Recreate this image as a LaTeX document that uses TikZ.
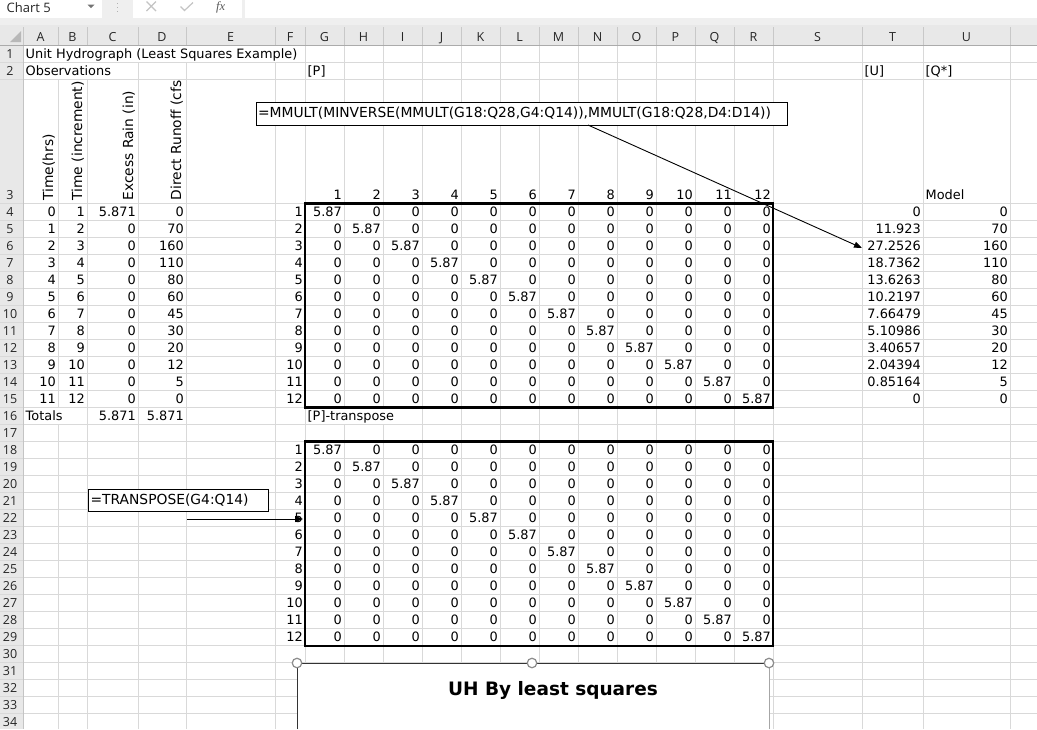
\documentclass[tikz,border=0pt]{standalone}
\usepackage{fontspec}
\setmainfont{DejaVu Sans}
\newfontfamily\uifont{Open Sans}
\newfontfamily\serifui{Liberation Serif}
\usetikzlibrary{arrows.meta}
\definecolor{gridc}{HTML}{D9D9D9}
\definecolor{hdrbg}{HTML}{E8E8E8}
\definecolor{barbg}{HTML}{EFEFEF}
\definecolor{hdrtxt}{HTML}{262626}
\definecolor{hdrline}{HTML}{ABABAB}
\definecolor{hdrsep}{HTML}{C8C8C8}
\definecolor{iconc}{HTML}{C4C4C4}
\newcommand\cellfont{\fontsize{12.9}{15}\selectfont}
\newcommand\shapefont{\fontsize{13.85}{16}\selectfont}
\newcommand\rotfont{\fontsize{13.8}{16}\selectfont}
\newcommand\hdrfont{\uifont\fontsize{12.5}{15}\selectfont}
\tikzset{
  cr/.style={anchor=base east, inner sep=0pt, font=\cellfont},
  cl/.style={anchor=base west, inner sep=0pt, font=\cellfont},
  hdrtext/.style={anchor=base, inner sep=0pt, font=\hdrfont, text=hdrtxt},
  rot/.style={rotate=90, anchor=base west, inner sep=0pt, font=\rotfont},
  gridl/.style={draw=gridc, line width=1pt},
  thickbox/.style={draw=black, line width=2.2pt},
  formulabox/.style={draw=black, line width=1pt, fill=white, anchor=north west,
     font=\shapefont, align=left, inner xsep=2pt, inner ysep=0pt,
     text height=10pt, text depth=2.5pt},
  conn/.style={draw=black, line width=0.9pt, -{Triangle[length=8pt,width=6pt]}},
  handle/.style={circle, draw=black!45, fill=white, line width=1.2pt, minimum size=9.5pt, inner sep=0pt},
}
\begin{document}
\begin{tikzpicture}[x=1pt,y=-1pt]
\useasboundingbox (0,0) rectangle (1037,729);
\fill[white] (0,0) rectangle (1037,729);
% ---------- toolbar ----------
\fill[barbg] (0,0) rectangle (1037,25);
\fill[white] (0,0) rectangle (102,17.5);
\node[anchor=base west, inner sep=0pt, font=\uifont\fontsize{13}{15}\selectfont, text=hdrtxt] (namebox) at (6.5,12.5) {Chart 5};
\fill[black!55] (87.5,4.5) -- (94.5,4.5) -- (91,8) -- cycle;
\foreach \yy in {2.5,6.5,10.5} \fill[black!30] (116.6,\yy) rectangle (118.2,{\yy+1.6});
\fill[white] (133,0) rectangle (242,17.5);
\draw[iconc, line width=1.2pt] (146.5,1.5) -- (156,11) (146.5,11) -- (156,1.5);
\draw[iconc, line width=1.2pt] (180.5,6.5) -- (184.5,10.5) -- (193,2.5);
\node[anchor=base west, inner sep=0pt, font=\serifui\itshape\fontsize{12.5}{13}\selectfont, text=black!65] (fxlbl) at (216,10.5) {fx};
\fill[white] (245,0) rectangle (1037,17.5);
% ---------- headers ----------
\fill[hdrbg] (0,25) rectangle (1037,45.5);
\fill[hdrbg] (0,45.5) rectangle (23,729);
\fill[black!28] (21,31) -- (21,42) -- (10,42) -- cycle;
% ---------- grid ----------
\foreach \x in {23,58,87,138,186,275,305,344,383,422,461,500,539,578,617,656,695,734,773,862,923,1010}
  \draw[gridl] (\x,45.5) -- (\x,729);
\foreach \x in {23,58,87,138,186,275,305,344,383,422,461,500,539,578,617,656,695,734,773,862,923,1010}
  \draw[hdrsep, line width=1pt] (\x,27) -- (\x,45);
\foreach \yy in {62.5,79.5} \draw[gridl] (0,\yy) -- (1037,\yy);
\foreach \k in {0,...,31} \draw[gridl] (0,{203.5+17*\k}) -- (1037,{203.5+17*\k});
\draw[hdrline, line width=1pt] (0,45.5) -- (1037,45.5);
\draw[hdrline!70, line width=1pt] (23,45.5) -- (23,729);
% overflowing text hides inner grid lines
\fill[white] (23.5,46.2) rectangle (304.5,62);
\fill[white] (23.5,63) rectangle (137.5,79);
\fill[white] (23.5,408.2) rectangle (86.5,424);
\fill[white] (305.5,408.2) rectangle (421.5,424);
% ---------- column letters ----------
\foreach \L/\cx in {A/40.5,B/72.5,C/112.5,D/162,E/230.5,F/290,G/324.5,H/363.5,I/402.5,J/441.5,K/480.5,L/519.5,M/558.5,N/597.5,O/636.5,P/675.5,Q/714.5,R/753.5,S/817.5,T/892.5,U/966.5}
  \node[hdrtext] (col-\L) at (\cx,41.5) {\L};
% ---------- row numbers ----------
\node[hdrtext] (row-1) at (10,58.8) {1};
\node[hdrtext] (row-2) at (10,75.8) {2};
\node[hdrtext] (row-3) at (10,199.8) {3};
\foreach \n in {4,...,34} \node[hdrtext] (row-\n) at (10,{216.8+17*(\n-4)}) {\n};
% ---------- cell texts ----------
\node[cl] (t1) at (25.5,58.8) {Unit Hydrograph (Least Squares Example)};
\node[cl] (t2) at (25.5,75.8) {Observations};
\node[cl] (g2) at (307.5,75.8) {[P]};
\node[cl] (t2u) at (864.5,75.8) {[U]};
\node[cl] (u2) at (925.5,75.8) {[Q*]};
\node[cl] (u3) at (925.5,199.8) {Model};
\begin{scope}
\clip (23,80) rectangle (186,203.5);
\node[rot] (ha) at (53,200.5) {Time(hrs)};
\node[rot] (hb) at (82,200.5) {Time (increment)};
\node[rot] (hc) at (133,200.5) {Excess Rain (in)};
\node[rot] (hd) at (181,200.5) {Direct Runoff (cfs)};
\end{scope}
\foreach \a/\b/\c/\d [count=\i from 0] in {0/1/5.871/0,1/2/0/70,2/3/0/160,3/4/0/110,4/5/0/80,5/6/0/60,6/7/0/45,7/8/0/30,8/9/0/20,9/10/0/12,10/11/0/5,11/12/0/0}{
  \node[cr] (a-\i) at (56,{216.8+17*\i}) {\a};
  \node[cr] (b-\i) at (85,{216.8+17*\i}) {\b};
  \node[cr] (c-\i) at (136,{216.8+17*\i}) {\c};
  \node[cr] (d-\i) at (184,{216.8+17*\i}) {\d};
}
\node[cl] (tot) at (25.5,420.8) {Totals};
\node[cr] (totc) at (136,420.8) {5.871};
\node[cr] (totd) at (184,420.8) {5.871};
\node[cl] (ptr) at (307.5,420.8) {[P]-transpose};
\foreach \tv/\uv [count=\i from 0] in {0/0,11.923/70,27.2526/160,18.7362/110,13.6263/80,10.2197/60,7.66479/45,5.10986/30,3.40657/20,2.04394/12,0.85164/5,0/0}{
  \node[cr] (tu-\i) at (921,{216.8+17*\i}) {\tv};
  \node[cr] (qs-\i) at (1008,{216.8+17*\i}) {\uv};
}
\foreach \r in {1,...,12}{
  \foreach \c in {1,...,12}{
    \node[cr] (p-\r-\c) at ({303+39*\c},{216.8+17*(\r-1)}) {\ifnum\r=\c\relax 5.87\else 0\fi};
    \node[cr] (q-\r-\c) at ({303+39*\c},{454.8+17*(\r-1)}) {\ifnum\r=\c\relax 5.87\else 0\fi};
  }
  \node[cr] (pr-\r) at (303,{216.8+17*(\r-1)}) {\r};
  \node[cr] (qr-\r) at (303,{454.8+17*(\r-1)}) {\r};
  \node[cr] (pc-\r) at ({303+39*\r},199.8) {\r};
}
% ---------- matrix borders ----------
\draw[thickbox] (305,203.5) rectangle (773,407.5);
\draw[thickbox] (305,441.5) rectangle (773,646);
% ---------- formula shapes ----------
\node[formulabox, minimum width=531.5pt, minimum height=23pt, text width=527.5pt] (f1) at (255.5,102) {=MMULT(MINVERSE(MMULT(G18:Q28,G4:Q14)),MMULT(G18:Q28,D4:D14))};
\node[formulabox, minimum width=179.5pt, minimum height=22pt, text width=175.5pt] (f2) at (88,489) {=TRANSPOSE(G4:Q14)};
\coordinate (a1s) at (588,125);
\coordinate (a1e) at (862,248);
\draw[conn] (a1s) -- (a1e);
\coordinate (a2s) at (187,519);
\coordinate (a2e) at (303,519);
\draw[conn] (a2s) -- (a2e);
% ---------- chart ----------
\fill[white] (297,663) rectangle (769,729);
\draw[black!80, line width=1pt] (297,729) -- (297,663) -- (769,663);
\draw[black!35, line width=1pt] (769,663) -- (769,729);
\node[handle] (h1) at (297,663) {};
\node[handle] (h2) at (532,663) {};
\node[handle] (h3) at (769,663) {};
\node[anchor=base, inner sep=0pt, font=\bfseries\fontsize{18.5}{22}\selectfont] (ctitle) at (553,695) {UH By least squares};
\end{tikzpicture}
\end{document}
